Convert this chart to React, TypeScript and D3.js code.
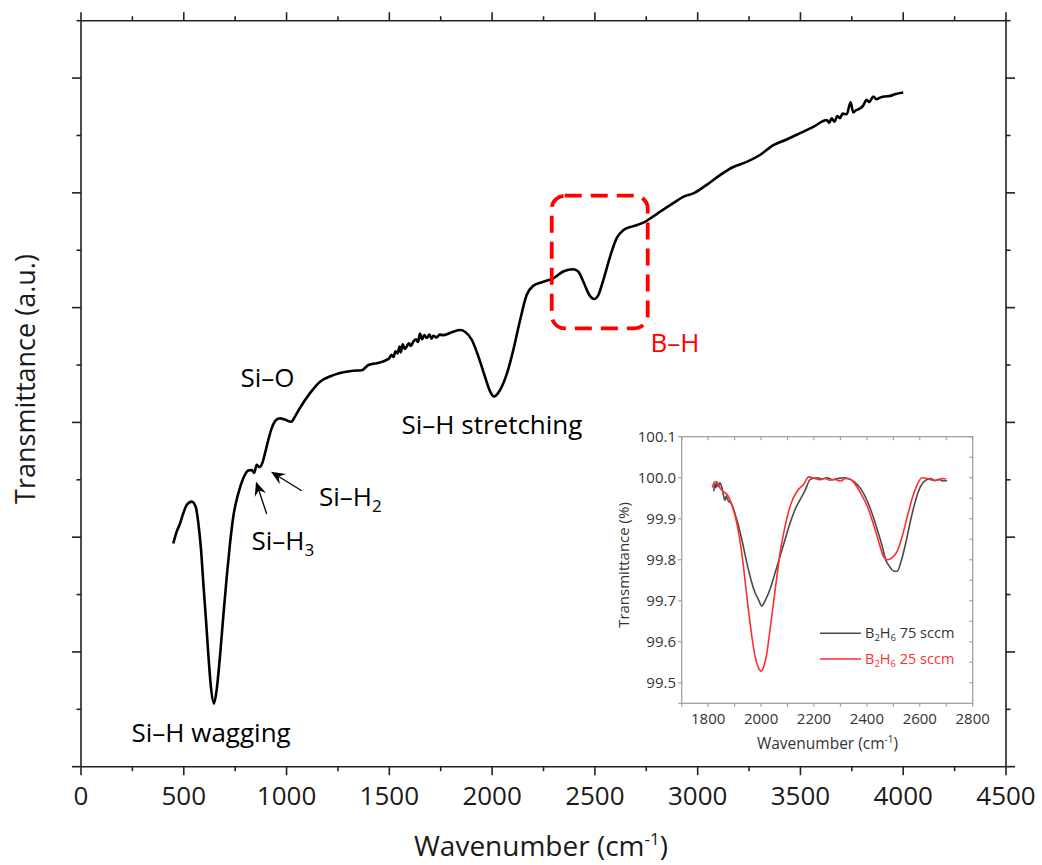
import React from "react";
import * as d3 from "d3";

// ---------- Main spectrum data ----------
const mainWavenumber = [
  449, 466, 482, 498, 514, 539, 558, 571, 584, 595, 607, 619, 632, 647, 660, 676, 692, 709, 725, 741,
  765, 790, 814, 830, 842, 855, 867, 882, 895, 911, 928, 949, 968, 992, 1022, 1041, 1065, 1114, 1163, 1211,
  1260, 1325, 1366, 1398, 1420, 1439, 1460, 1487, 1500, 1510, 1520, 1530, 1540, 1550, 1556, 1565, 1575, 1584, 1595, 1605,
  1617, 1630, 1640, 1649, 1660, 1670, 1682, 1695, 1705, 1714, 1730, 1745, 1763, 1790, 1811, 1844, 1868, 1901, 1933, 1965,
  1990, 2009, 2038, 2071, 2103, 2136, 2168, 2200, 2249, 2298, 2346, 2395, 2419, 2444, 2473, 2497, 2517, 2541, 2574, 2606,
  2638, 2687, 2736, 2784, 2817, 2881, 2930, 2979, 3044, 3109, 3173, 3239, 3303, 3368, 3433, 3498, 3563, 3628, 3640, 3652,
  3665, 3680, 3692, 3705, 3725, 3744, 3757, 3770, 3790, 3805, 3822, 3835, 3854, 3870, 3887, 3910, 3936, 3960, 4000,
];
const mainTransmittance = [
  3.89, 4.10, 4.24, 4.42, 4.56, 4.62, 4.53, 4.24, 3.78, 3.20, 2.61, 1.98, 1.39, 1.10, 1.34, 1.92, 2.61, 3.31, 3.89, 4.36,
  4.76, 5.03, 5.16, 5.17, 5.12, 5.26, 5.22, 5.29, 5.46, 5.69, 5.90, 6.04, 6.07, 6.05, 6.01, 6.10, 6.25, 6.51, 6.71, 6.80,
  6.86, 6.90, 6.91, 7.00, 7.02, 7.03, 7.05, 7.09, 7.12, 7.18, 7.14, 7.24, 7.20, 7.32, 7.22, 7.36, 7.28, 7.32, 7.38, 7.33,
  7.41, 7.45, 7.40, 7.55, 7.45, 7.52, 7.47, 7.53, 7.46, 7.51, 7.48, 7.53, 7.52, 7.55, 7.58, 7.61, 7.58, 7.44, 7.15, 6.80,
  6.54, 6.45, 6.56, 6.84, 7.26, 7.78, 8.22, 8.38, 8.45, 8.51, 8.63, 8.67, 8.63, 8.45, 8.22, 8.15, 8.22, 8.48, 8.89, 9.21,
  9.35, 9.42, 9.48, 9.59, 9.67, 9.82, 9.93, 9.99, 10.14, 10.31, 10.45, 10.54, 10.66, 10.83, 10.93, 11.04, 11.15, 11.27, 11.22, 11.30,
  11.24, 11.34, 11.30, 11.38, 11.37, 11.58, 11.40, 11.44, 11.47, 11.52, 11.62, 11.58, 11.68, 11.63, 11.66, 11.68, 11.69, 11.72, 11.75,
];

const mainXTicks = [0, 500, 1000, 1500, 2000, 2500, 3000, 3500, 4000, 4500];
const mainXMinorTicks = [250, 750, 1250, 1750, 2250, 2750, 3250, 3750, 4250];
const mainYMajorTicks = [0, 2, 4, 6, 8, 10, 12];
const mainYMinorTicks = [1, 3, 5, 7, 9, 11, 13];

// highlighted B–H region (wavenumber / a.u. extents)
const boxWavenumber = [2290, 2757];
const boxTransmittance = [9.95, 7.64];

// ---------- Inset data ----------
const insetWavenumber75 = [
  1821, 1825, 1829, 1833, 1838, 1844, 1851, 1857, 1863, 1868, 1875, 1889, 1908, 1927, 1946, 1965, 1977, 1990, 2003, 2015,
  2034, 2053, 2072, 2091, 2110, 2129, 2148, 2167, 2186, 2211, 2230, 2250, 2270, 2290, 2313, 2338, 2363, 2389, 2414, 2439,
  2458, 2471, 2484, 2503, 2515, 2528, 2547, 2566, 2585, 2604, 2623, 2642, 2655, 2673, 2690, 2703,
];
const insetTransmittance75 = [
  99.967, 99.985, 99.975, 99.99, 99.978, 99.988, 99.978, 99.96, 99.945, 99.955, 99.945, 99.935, 99.898, 99.85, 99.793, 99.744, 99.72, 99.703, 99.687, 99.70,
  99.728, 99.768, 99.809, 99.85, 99.89, 99.923, 99.947, 99.97, 99.996, 100.0, 99.997, 100.0, 99.995, 99.998, 100.0, 99.996, 99.984, 99.96, 99.923, 99.874,
  99.833, 99.80, 99.785, 99.772, 99.772, 99.793, 99.841, 99.898, 99.947, 99.98, 99.994, 99.998, 99.993, 99.996, 99.992, 99.993,
];
const insetWavenumber25 = [
  1816, 1825, 1834, 1842, 1851, 1860, 1870, 1889, 1908, 1927, 1939, 1952, 1965, 1977, 1990, 2000, 2009, 2022, 2034, 2047,
  2060, 2072, 2091, 2110, 2136, 2161, 2180, 2199, 2220, 2240, 2260, 2280, 2300, 2320, 2340, 2351, 2376, 2401, 2427, 2446,
  2462, 2477, 2496, 2515, 2534, 2553, 2572, 2591, 2608, 2629, 2648, 2667, 2685, 2699,
];
const insetTransmittance25 = [
  99.976, 99.99, 99.988, 99.978, 99.97, 99.965, 99.96, 99.935, 99.89, 99.817, 99.752, 99.679, 99.614, 99.565, 99.537, 99.528, 99.537, 99.573, 99.63, 99.695,
  99.76, 99.817, 99.882, 99.931, 99.967, 99.984, 100.002, 99.999, 99.995, 99.998, 99.994, 99.996, 99.992, 99.998, 99.995, 99.988, 99.963, 99.931, 99.882, 99.841,
  99.809, 99.80, 99.805, 99.821, 99.858, 99.906, 99.951, 99.984, 100.0, 99.998, 99.994, 99.994, 99.998, 99.997,
];
const insetXTicks = [1700, 1800, 1900, 2000, 2100, 2200, 2300, 2400, 2500, 2600, 2700, 2800];
const insetXLabels = [1800, 2000, 2200, 2400, 2600, 2800];
const insetYLabels = [100.1, 100.0, 99.9, 99.8, 99.7, 99.6, 99.5];
const insetYRightTicks = [100.1, 100.05, 100.0, 99.95, 99.9, 99.85, 99.8, 99.75, 99.7, 99.65, 99.6, 99.55, 99.5];
const insetLegend = ["75", "25"];

const FONT = "'Open Sans', 'Noto Sans', sans-serif";

function Arrow({ x1, y1, x2, y2 }: { x1: number; y1: number; x2: number; y2: number }) {
  const dx = x2 - x1, dy = y2 - y1;
  const len = Math.hypot(dx, dy);
  const ux = dx / len, uy = dy / len;
  const px = -uy, py = ux;
  const L = 14, W = 6, N = 9;
  const bx = x2 - ux * L, by = y2 - uy * L;
  const nx = x2 - ux * N, ny = y2 - uy * N;
  const head = `M${x2},${y2} L${bx + px * W},${by + py * W} L${nx},${ny} L${bx - px * W},${by - py * W} Z`;
  return (
    <g>
      <line x1={x1} y1={y1} x2={nx} y2={ny} stroke="#000" strokeWidth={1.3} />
      <path d={head} fill="#000" />
    </g>
  );
}

export default function App() {
  const x = d3.scaleLinear().domain([0, 4500]).range([81, 1006]);
  const y = d3.scaleLinear().domain([0, 13]).range([766.7, 20.7]);
  const mainData = mainWavenumber.map((w, i) => [w, mainTransmittance[i]] as [number, number]);
  const mainLine = d3
    .line<[number, number]>()
    .x((d) => x(d[0]))
    .y((d) => y(d[1]))
    .curve(d3.curveMonotoneX);

  const ix = d3.scaleLinear().domain([1700, 2800]).range([681.7, 972.7]);
  const iy = d3.scaleLinear().domain([99.45, 100.1]).range([703.3, 436.7]);
  const insetLine = d3
    .line<[number, number]>()
    .x((d) => ix(d[0]))
    .y((d) => iy(d[1]))
    .curve(d3.curveMonotoneX);
  const d75 = insetWavenumber75.map((w, i) => [w, insetTransmittance75[i]] as [number, number]);
  const d25 = insetWavenumber25.map((w, i) => [w, insetTransmittance25[i]] as [number, number]);

  const axisColor = "#222";
  const [x0, x1] = x.range();
  const [yb, yt] = y.range();

  const bx0 = x(boxWavenumber[0]), bx1 = x(boxWavenumber[1]);
  const by0 = y(boxTransmittance[0]), by1 = y(boxTransmittance[1]);

  const insetGrey = "#9a9a9a";
  const insetText = "#333";
  const red = "#ff0000";

  return (
    <svg
      width={1042}
      height={865}
      style={{ position: "absolute", left: 0, top: 0, background: "#fff" }}
      fontFamily={FONT}
    >
      <rect x={0} y={0} width={1042} height={865} fill="#fff" />
      <g stroke={axisColor} strokeWidth={1.6} fill="none">
        <line x1={x0} y1={yb} x2={x1} y2={yb} />
        <line x1={x0} y1={yt} x2={x1} y2={yt} />
        <line x1={x0} y1={yb} x2={x0} y2={yt} />
        <line x1={x1} y1={yb} x2={x1} y2={yt} />
        {mainXTicks.map((t) => (
          <g key={"mx" + t}>
            <line x1={x(t)} x2={x(t)} y1={yb} y2={yb + 8.5} />
            <line x1={x(t)} x2={x(t)} y1={yt} y2={yt - 8.5} />
          </g>
        ))}
        {mainXMinorTicks.map((t) => (
          <g key={"mxm" + t}>
            <line x1={x(t)} x2={x(t)} y1={yb} y2={yb + 4.5} />
            <line x1={x(t)} x2={x(t)} y1={yt} y2={yt - 4.5} />
          </g>
        ))}
        {mainYMajorTicks.map((t) => (
          <g key={"my" + t}>
            <line x1={x0} x2={x0 - 9} y1={y(t)} y2={y(t)} />
            <line x1={x1} x2={x1 + 9} y1={y(t)} y2={y(t)} />
          </g>
        ))}
        {mainYMinorTicks.map((t) => (
          <g key={"mym" + t}>
            <line x1={x0} x2={x0 - 4.5} y1={y(t)} y2={y(t)} />
            <line x1={x1} x2={x1 + 4.5} y1={y(t)} y2={y(t)} />
          </g>
        ))}
      </g>
      <g fontSize={26} fill="#1a1a1a" textAnchor="middle">
        {mainXTicks.map((t) => (
          <text key={"mxl" + t} x={x(t)} y={805}>
            {t}
          </text>
        ))}
      </g>
      <text x={541} y={856} fontSize={28} textAnchor="middle" fill="#1a1a1a">
        Wavenumber (cm<tspan dy={-11} fontSize={17}>-1</tspan>
        <tspan dy={11}>)</tspan>
      </text>
      <text
        transform="translate(35,379) rotate(-90)"
        fontSize={27}
        textAnchor="middle"
        fill="#1a1a1a"
      >
        Transmittance (a.u.)
      </text>

      <path d={mainLine(mainData) || ""} fill="none" stroke="#000" strokeWidth={2.6} strokeLinejoin="round" />

      <g fontSize={26} fill="#000">
        <text x={240.5} y={386.5}>Si–O</text>
        <text x={401.5} y={433.5}>Si–H stretching</text>
        <text x={131.5} y={742}>Si–H wagging</text>
        <text x={319} y={506}>
          Si–H<tspan fontSize={17} dy={6}>2</tspan>
        </text>
        <text x={251.5} y={550}>
          Si–H<tspan fontSize={17} dy={6}>3</tspan>
        </text>
      </g>
      <Arrow x1={266.7} y1={514} x2={256} y2={481.7} />
      <Arrow x1={301.7} y1={490.7} x2={271} y2={471.7} />

      <rect
        x={bx0}
        y={by0}
        width={bx1 - bx0}
        height={by1 - by0}
        rx={13}
        ry={13}
        fill="none"
        stroke={red}
        strokeWidth={3.8}
        strokeDasharray="17 9"
      />
      <text x={650.5} y={352} fontSize={26} fill={red}>
        B–H
      </text>

      <g>
        <rect
          x={ix(1700)}
          y={iy(100.1)}
          width={ix(2800) - ix(1700)}
          height={iy(99.45) - iy(100.1)}
          fill="#fff"
          stroke={insetGrey}
          strokeWidth={1.2}
        />
        <g stroke={insetGrey} strokeWidth={1.1}>
          {insetXTicks.map((t) => (
            <g key={"ixt" + t}>
              <line x1={ix(t)} x2={ix(t)} y1={iy(99.45)} y2={iy(99.45) + 3.5} />
              <line x1={ix(t)} x2={ix(t)} y1={iy(100.1)} y2={iy(100.1) + 3.5} />
            </g>
          ))}
          {insetYLabels.map((t) => (
            <line key={"iyl" + t} x1={ix(1700)} x2={ix(1700) - 3.5} y1={iy(t)} y2={iy(t)} />
          ))}
          <line x1={ix(1700)} x2={ix(1700) - 3.5} y1={iy(99.45)} y2={iy(99.45)} />
          {insetYRightTicks.map((t) => (
            <line key={"iyr" + t} x1={ix(2800)} x2={ix(2800) - 3.5} y1={iy(t)} y2={iy(t)} />
          ))}
        </g>
        <g fontSize={15} fill={insetText}>
          {insetYLabels.map((t) => (
            <text key={"iylab" + t} x={676} y={iy(t)} dy="0.35em" textAnchor="end">
              {t.toFixed(1)}
            </text>
          ))}
          {insetXLabels.map((t) => (
            <text key={"ixlab" + t} x={ix(t)} y={723.5} textAnchor="middle">
              {t}
            </text>
          ))}
        </g>
        <text x={827.5} y={748.5} fontSize={15.5} fill={insetText} textAnchor="middle">
          Wavenumber (cm<tspan dy={-6} fontSize={10}>-1</tspan>
          <tspan dy={6}>)</tspan>
        </text>
        <text transform="translate(629,565) rotate(-90)" fontSize={15} fill={insetText} textAnchor="middle">
          Transmittance (%)
        </text>
        <path d={insetLine(d75) || ""} fill="none" stroke="#4a4a4a" strokeWidth={1.6} />
        <path d={insetLine(d25) || ""} fill="none" stroke="#ff2e2e" strokeWidth={1.6} />
        {insetLegend.map((v, i) => {
          const color = i === 0 ? "#4a4a4a" : "#ff2e2e";
          const ly = 633.3 + i * 25.7;
          return (
            <g key={"leg" + v}>
              <line x1={820} x2={861} y1={ly} y2={ly} stroke={color} strokeWidth={1.6} />
              <text x={865} y={ly + 5} fontSize={14.5} fill={i === 0 ? insetText : "#ff2e2e"}>
                B<tspan fontSize={9.5} dy={3}>2</tspan>
                <tspan dy={-3}>H</tspan>
                <tspan fontSize={9.5} dy={3}>6</tspan>
                <tspan dy={-3}> {v} sccm</tspan>
              </text>
            </g>
          );
        })}
      </g>
    </svg>
  );
}
